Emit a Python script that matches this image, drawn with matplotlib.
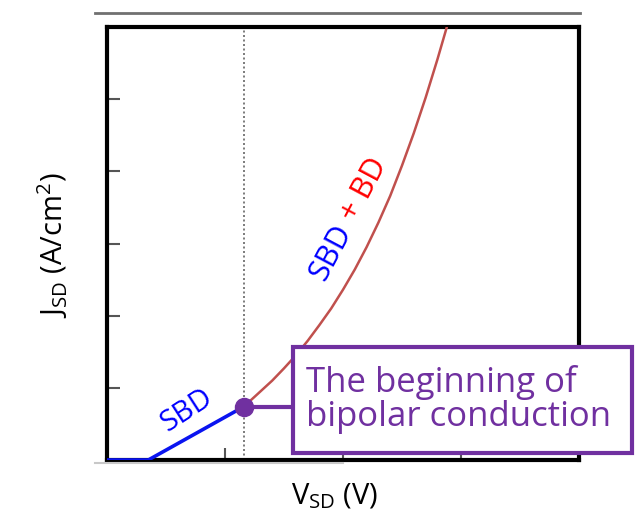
import matplotlib

matplotlib.use("Agg")
import matplotlib.pyplot as plt
from matplotlib.patches import Rectangle
from matplotlib.lines import Line2D

plt.rcParams["font.family"] = ["Open Sans", "DejaVu Sans"]
plt.rcParams["mathtext.fontset"] = "custom"
plt.rcParams["mathtext.rm"] = "Open Sans"
plt.rcParams["mathtext.it"] = "Open Sans"

# SBD-only branch (before bipolar turn-on)
sbd_v = [0.0, 0.35, 1.16]
sbd_j = [0.0, 0.0, 0.74]

# SBD + BD branch
bd_v = [1.16, 1.3, 1.4, 1.5, 1.6, 1.7, 1.8, 1.9, 2.0, 2.1, 2.2, 2.3, 2.4, 2.5, 2.6, 2.7, 2.8, 2.88]
bd_j = [0.74, 0.95, 1.10, 1.27, 1.45, 1.65, 1.87, 2.10, 2.36, 2.64, 2.95, 3.29, 3.66, 4.08, 4.53,
        5.02, 5.55, 6.0]

onset_v = 1.16
onset_j = 0.74

x_ticks = [1, 2, 3]
y_ticks = [1, 2, 3, 4, 5]

purple = "#7030A0"

fig = plt.figure(figsize=(6.41, 5.12), dpi=100)
ax = fig.add_axes([107 / 641, 52 / 512, 472 / 641, 433 / 512])
ax.set_xlim(0, 4)
ax.set_ylim(0, 6)

ax.axvline(onset_v, color="#666666", linestyle=(0, (1.2, 1.5)), linewidth=1.2, zorder=1)
ax.plot(sbd_v, sbd_j, color="#0A14F0", linewidth=2.6, solid_capstyle="butt", zorder=3)
ax.plot(bd_v, bd_j, color="#C0504D", linewidth=1.8, zorder=3)

# connector + box
ax.plot([onset_v, 1.576], [onset_j, onset_j], color=purple, linewidth=3, zorder=3)
ax.plot([onset_v], [onset_j], "o", color=purple, markersize=13, zorder=5)
box = Rectangle((1.576, 0.097), 4.45 - 1.576, 1.57 - 0.097, facecolor="white",
                edgecolor=purple, linewidth=3, clip_on=False, zorder=6)
ax.add_patch(box)
ax.text(1.69, 0.84, "The beginning of\nbipolar conduction", color=purple, fontsize=25,
        ha="left", va="center", linespacing=1.0, zorder=7)

ax.text(0.678, 0.69, "SBD", color="#0000FF", fontsize=21, rotation=33,
        ha="center", va="center", rotation_mode="anchor")
# two-coloured "SBD + BD" label, joined at one anchor point
ax.text(2.014, 3.24, "SBD", color="#0000FF", fontsize=22, rotation=62,
        ha="right", va="center", rotation_mode="anchor")
ax.text(2.014, 3.24, " + BD", color="#FF0000", fontsize=22, rotation=62,
        ha="left", va="center", rotation_mode="anchor")

ax.set_xticks(x_ticks)
ax.set_yticks(y_ticks)
ax.set_xticklabels([])
ax.set_yticklabels([])
ax.tick_params(direction="in", length=9, width=1.5, color="#555555")
for sp in ax.spines.values():
    sp.set_linewidth(3)
    sp.set_color("black")

ax.set_xlabel(r"V$_{\mathrm{SD}}$ (V)", fontsize=21)
ax.xaxis.set_label_coords(0.483, -0.05)
ax.set_ylabel(r"J$_{\mathrm{SD}}$ (A/cm$^{2}$)", fontsize=21)
ax.yaxis.set_label_coords(-0.078, 0.497)

# slide artefacts: grey rules above and below the plot
fig.add_artist(Line2D([95 / 641, 580 / 641], [1 - 13 / 512] * 2, color="#707070", linewidth=2))
fig.add_artist(Line2D([95 / 641, 343 / 641], [1 - 463 / 512] * 2, color="#C8C8C8", linewidth=1.5))

fig.savefig("out.png", dpi=100)
